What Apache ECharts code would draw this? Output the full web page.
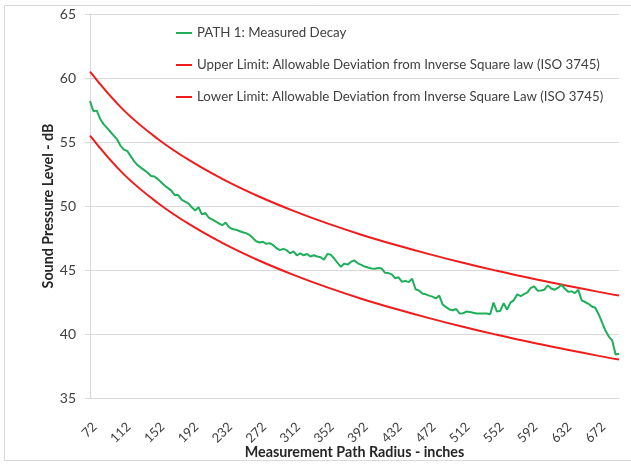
<!DOCTYPE html>
<html>
<head>
<meta charset="utf-8">
<script src="https://cdn.jsdelivr.net/npm/echarts/dist/echarts.min.js"></script>
<style>
  html, body { margin: 0; padding: 0; background: #fff; }
  #chart { width: 631px; height: 464px; }
</style>
</head>
<body>
<div id="chart"></div>
<script>
// Measurement path radius (inches), one category every 4 inches
const radius = [
  72,76,80,84,88,92,96,100,104,108,
  112,116,120,124,128,132,136,140,144,148,
  152,156,160,164,168,172,176,180,184,188,
  192,196,200,204,208,212,216,220,224,228,
  232,236,240,244,248,252,256,260,264,268,
  272,276,280,284,288,292,296,300,304,308,
  312,316,320,324,328,332,336,340,344,348,
  352,356,360,364,368,372,376,380,384,388,
  392,396,400,404,408,412,416,420,424,428,
  432,436,440,444,448,452,456,460,464,468,
  472,476,480,484,488,492,496,500,504,508,
  512,516,520,524,528,532,536,540,544,548,
  552,556,560,564,568,572,576,580,584,588,
  592,596,600,604,608,612,616,620,624,628,
  632,636,640,644,648,652,656,660,664,668,
  672,676,680,684,688,692,696
];

// PATH 1: measured sound pressure level (dB) at each radius
const measuredDecay = [
  58.2,57.4,57.45,56.8,56.4,56.1,55.8,55.5,55.2,54.7,
  54.4,54.3,53.9,53.5,53.2,53.0,52.8,52.6,52.35,52.3,
  52.1,51.85,51.6,51.4,51.2,50.85,50.85,50.5,50.35,50.2,
  49.9,49.65,49.9,49.35,49.45,49.1,48.95,48.8,48.65,48.5,
  48.7,48.35,48.2,48.15,48.05,47.95,47.88,47.75,47.5,47.25,
  47.15,47.2,47.05,47.1,46.95,46.7,46.55,46.65,46.55,46.3,
  46.45,46.15,46.3,46.15,46.25,46.05,46.15,46.05,46.0,45.8,
  46.25,46.2,45.9,45.55,45.25,45.5,45.42,45.65,45.75,45.52,
  45.4,45.27,45.19,45.12,45.1,45.16,45.12,44.78,44.76,44.66,
  44.35,44.43,44.08,44.15,44.05,44.32,43.5,43.4,43.17,43.1,
  43.0,42.92,42.78,43.0,42.3,42.1,41.92,41.86,41.95,41.6,
  41.62,41.75,41.72,41.66,41.6,41.6,41.6,41.6,41.55,42.45,
  41.75,41.82,42.4,41.9,42.45,42.65,43.1,42.95,43.12,43.25,
  43.6,43.72,43.38,43.4,43.46,43.8,43.55,43.46,43.6,43.85,
  43.55,43.3,43.33,43.2,43.45,42.63,42.5,42.36,42.15,42.05,
  41.55,40.9,40.27,39.8,39.5,38.4,38.45
];

// ISO 3745 allowable deviation limits, sampled every 40 inches plus the end point
const limitRadius = [72,112,152,192,232,272,312,352,392,432,472,512,552,592,632,672,696];
const upperLimit = [60.5,57.47,55.24,53.46,51.98,50.72,49.62,48.64,47.76,46.97,46.24,45.56,44.94,44.35,43.81,43.29,43.0];
const lowerLimit = [55.5,52.47,50.24,48.46,46.98,45.72,44.62,43.64,42.76,41.97,41.24,40.56,39.94,39.35,38.81,38.29,38.0];

// Axis ranges
const yMin = 35, yMax = 65, yStep = 5;

const seriesNames = [
  'PATH 1: Measured Decay',
  'Upper Limit: Allowable Deviation from Inverse Square law (ISO 3745)',
  'Lower Limit: Allowable Deviation from Inverse Square Law (ISO 3745)'
];

const FONT = 'Lato';
const GREEN = '#1fae5a';
const RED = '#f01c1c';

const chart = echarts.init(document.getElementById('chart'), null, { renderer: 'canvas' });

const toPairs = (xs, ys) => xs.map((r, k) => [String(r), ys[k]]);

chart.setOption({
  animation: false,
  backgroundColor: '#ffffff',
  graphic: [{
    type: 'rect',
    shape: { x: 4.5, y: 5.5, width: 640, height: 455 },
    style: { fill: 'none', stroke: '#d9d9d9', lineWidth: 1 },
    silent: true,
    z: -1
  }],
  grid: { left: 90, right: 12, top: 14, bottom: 66, containLabel: false, outerBoundsMode: 'none' },
  legend: {
    orient: 'vertical',
    left: 171,
    top: 21,
    icon: 'rect',
    itemWidth: 16,
    itemHeight: 2,
    itemGap: 18,
    textStyle: { fontFamily: FONT, fontSize: 13.3, lineHeight: 14, color: '#404040' },
    data: seriesNames
  },
  xAxis: {
    type: 'category',
    data: radius.map(String),
    boundaryGap: false,
    name: 'Measurement Path Radius - inches',
    nameLocation: 'middle',
    nameGap: 47,
    nameMoveOverlap: false,
    nameTextStyle: { fontFamily: FONT, fontSize: 14.3, fontWeight: 'bold', color: '#262626' },
    axisLine: { show: true, lineStyle: { color: '#d9d9d9', width: 1 } },
    axisTick: { show: false },
    axisLabel: {
      interval: 9,
      rotate: 45,
      margin: 22,
      align: 'right',
      verticalAlign: 'top',
      fontFamily: FONT,
      fontSize: 13,
      color: '#404040'
    },
    splitLine: { show: false }
  },
  yAxis: {
    type: 'value',
    min: yMin,
    max: yMax,
    interval: yStep,
    name: 'Sound Pressure Level - dB',
    nameLocation: 'middle',
    nameGap: 35,
    nameMoveOverlap: false,
    nameTextStyle: { fontFamily: FONT, fontSize: 14.3, fontWeight: 'bold', color: '#262626' },
    axisLine: { show: true, lineStyle: { color: '#d9d9d9', width: 1 } },
    axisTick: { show: true, length: 5, lineStyle: { color: '#d9d9d9' } },
    axisLabel: { margin: 14, fontFamily: FONT, fontSize: 14, color: '#404040' },
    splitLine: { show: true, lineStyle: { color: '#d9d9d9', width: 1 } }
  },
  series: [
    {
      name: seriesNames[0],
      type: 'line',
      data: measuredDecay,
      symbol: 'none',
      lineStyle: { color: GREEN, width: 2 },
      itemStyle: { color: GREEN },
      z: 3
    },
    {
      name: seriesNames[1],
      type: 'line',
      data: toPairs(limitRadius, upperLimit),
      symbol: 'none',
      smooth: 0.4,
      lineStyle: { color: RED, width: 2 },
      itemStyle: { color: RED },
      z: 2
    },
    {
      name: seriesNames[2],
      type: 'line',
      data: toPairs(limitRadius, lowerLimit),
      symbol: 'none',
      smooth: 0.4,
      lineStyle: { color: RED, width: 2 },
      itemStyle: { color: RED },
      z: 2
    }
  ]
});
</script>
</body>
</html>
